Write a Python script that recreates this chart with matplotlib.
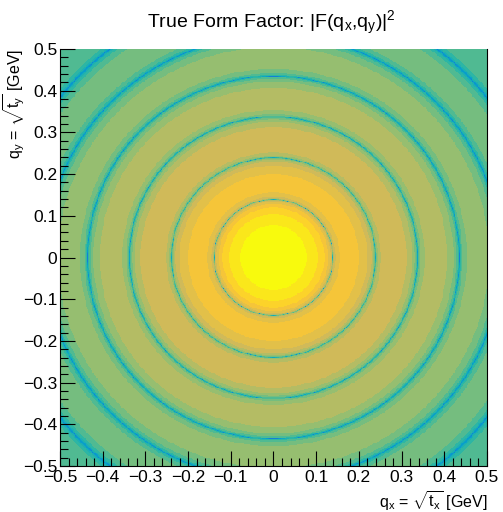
import numpy as np
import matplotlib
matplotlib.use("Agg")
import matplotlib.pyplot as plt
from matplotlib.colors import LinearSegmentedColormap, ListedColormap, BoundaryNorm

# ROOT kBird palette stops
bird_stops = [0.0, 0.125, 0.25, 0.375, 0.5, 0.625, 0.75, 0.875, 1.0]
bird_r = [0.2082, 0.0592, 0.0780, 0.0232, 0.1802, 0.5301, 0.8186, 0.9956, 0.9764]
bird_g = [0.1664, 0.3599, 0.5041, 0.6419, 0.7178, 0.7492, 0.7328, 0.7862, 0.9832]
bird_b = [0.5293, 0.8684, 0.8385, 0.7914, 0.6425, 0.4662, 0.3499, 0.1968, 0.0539]

# nucleus parameters (hard sphere folded with a Yukawa)
radius_fm = 6.38
yukawa_fm = 0.70
hbarc = 0.19733  # GeV fm

n_bins = 500
q_lo, q_hi = -0.5, 0.5
n_contours = 20
z_max = 1.0
z_min = 10 ** -13.4
lowest_seen_level = 4  # deepest colour band that shows up in the minima

tick_major = [-0.5, -0.4, -0.3, -0.2, -0.1, 0.0, 0.1, 0.2, 0.3, 0.4, 0.5]
tick_labels = ["\u22120.5", "\u22120.4", "\u22120.3", "\u22120.2", "\u22120.1", "0",
               "0.1", "0.2", "0.3", "0.4", "0.5"]

plt.rcParams["font.family"] = ["Liberation Sans", "DejaVu Sans"]
plt.rcParams["mathtext.fontset"] = "custom"
plt.rcParams["mathtext.rm"] = "Liberation Sans"
plt.rcParams["mathtext.it"] = "Liberation Sans"


def form_factor(q):
    R = radius_fm / hbarc
    a = yukawa_fm / hbarc
    x = np.maximum(q * R, 1e-6)
    sphere = 3.0 * (np.sin(x) - x * np.cos(x)) / x**3
    return sphere / (1.0 + (a * q) ** 2)


edges = np.linspace(q_lo, q_hi, n_bins + 1)
centers = 0.5 * (edges[1:] + edges[:-1])
qx, qy = np.meshgrid(centers, centers)
z = form_factor(np.hypot(qx, qy)) ** 2

bird = LinearSegmentedColormap.from_list(
    "bird", [(s, (r, g, b)) for s, r, g, b in zip(bird_stops, bird_r, bird_g, bird_b)])
level_cols = [bird((i + 0.99) / n_contours) for i in range(n_contours)]
cmap = ListedColormap(level_cols)
levels = np.logspace(np.log10(z_min), np.log10(z_max), n_contours + 1)
norm = BoundaryNorm(levels, n_contours)
z = np.clip(z, levels[lowest_seen_level] * 1.001, z_max * 0.9999)

fig = plt.figure(figsize=(5.03, 5.12), dpi=100)
ax = fig.add_axes([60 / 503, 1 - 466 / 512, 427 / 503, 417 / 512])
ax.imshow(z, origin="lower", extent=(q_lo, q_hi, q_lo, q_hi), cmap=cmap, norm=norm,
          interpolation="nearest", aspect="auto")
ax.set_xlim(q_lo, q_hi)
ax.set_ylim(q_lo, q_hi)

ax.set_xticks(tick_major)
ax.set_xticklabels(tick_labels)
ax.set_yticks(tick_major)
ax.set_yticklabels(tick_labels)
ax.set_xticks(np.arange(-0.5, 0.5001, 0.02), minor=True)
ax.set_yticks(np.arange(-0.5, 0.5001, 0.02), minor=True)
ax.tick_params(which="both", direction="in", labelsize=12.5, width=0.8,
               top=False, right=False)
ax.tick_params(which="major", length=11)
ax.tick_params(which="minor", length=6)
ax.tick_params(axis="x", pad=3)
ax.tick_params(axis="y", pad=2)
ax.spines["top"].set_visible(False)
for s in ("left", "bottom", "right"):
    ax.spines[s].set_linewidth(0.8)

ax.set_xlabel(r"$\mathregular{q_x}$ = $\sqrt{\mathregular{t_x}}$ [GeV]", fontsize=11.5,
              loc="right")
ax.xaxis.set_label_coords(1.0, -0.056)
ax.set_ylabel(r"$\mathregular{q_y}$ = $\sqrt{\mathregular{t_y}}$ [GeV]", fontsize=11.5,
              loc="top")
ax.yaxis.set_label_coords(-0.078, 1.0)
fig.text(0.54, 0.955, r"True Form Factor: |F($\mathregular{q_x}$,$\mathregular{q_y}$)$\mathregular{|^2}$",
         ha="center", va="center", fontsize=14)

fig.savefig("out.png", dpi=100)
